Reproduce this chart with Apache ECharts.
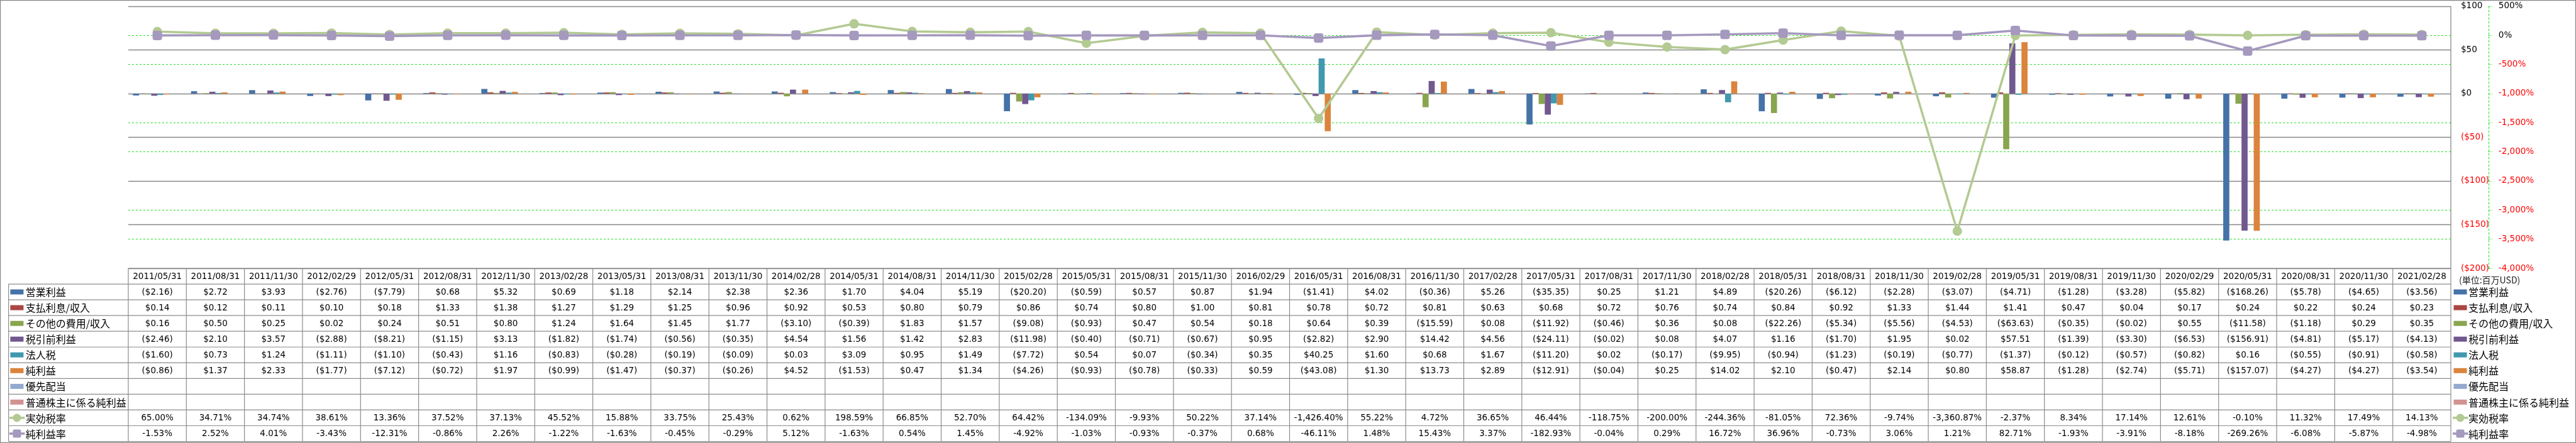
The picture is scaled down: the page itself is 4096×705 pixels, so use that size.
<!DOCTYPE html>
<html><head><meta charset="utf-8">
<script src="https://cdn.jsdelivr.net/npm/echarts@6/dist/echarts.min.js"></script>
<style>html,body{margin:0;padding:0;background:#fff}#c{width:4096px;height:705px}</style>
</head><body><div id="c"></div><script>
const categories = ["2011/05/31","2011/08/31","2011/11/30","2012/02/29","2012/05/31","2012/08/31","2012/11/30","2013/02/28","2013/05/31","2013/08/31","2013/11/30","2014/02/28","2014/05/31","2014/08/31","2014/11/30","2015/02/28","2015/05/31","2015/08/31","2015/11/30","2016/02/29","2016/05/31","2016/08/31","2016/11/30","2017/02/28","2017/05/31","2017/08/31","2017/11/30","2018/02/28","2018/05/31","2018/08/31","2018/11/30","2019/02/28","2019/05/31","2019/08/31","2019/11/30","2020/02/29","2020/05/31","2020/08/31","2020/11/30","2021/02/28"];
const operatingIncome = [-2.16,2.72,3.93,-2.76,-7.79,0.68,5.32,0.69,1.18,2.14,2.38,2.36,1.70,4.04,5.19,-20.20,-0.59,0.57,0.87,1.94,-1.41,4.02,-0.36,5.26,-35.35,0.25,1.21,4.89,-20.26,-6.12,-2.28,-3.07,-4.71,-1.28,-3.28,-5.82,-168.26,-5.78,-4.65,-3.56];
const interest = [0.14,0.12,0.11,0.10,0.18,1.33,1.38,1.27,1.29,1.25,0.96,0.92,0.53,0.80,0.79,0.86,0.74,0.80,1.00,0.81,0.78,0.72,0.81,0.63,0.68,0.72,0.76,0.74,0.84,0.92,1.33,1.44,1.41,0.47,0.04,0.17,0.24,0.22,0.24,0.23];
const otherExpense = [0.16,0.50,0.25,0.02,0.24,0.51,0.80,1.24,1.64,1.45,1.77,-3.10,-0.39,1.83,1.57,-9.08,-0.93,0.47,0.54,0.18,0.64,0.39,-15.59,0.08,-11.92,-0.46,0.36,0.08,-22.26,-5.34,-5.56,-4.53,-63.63,-0.35,-0.02,0.55,-11.58,-1.18,0.29,0.35];
const pretaxIncome = [-2.46,2.10,3.57,-2.88,-8.21,-1.15,3.13,-1.82,-1.74,-0.56,-0.35,4.54,1.56,1.42,2.83,-11.98,-0.40,-0.71,-0.67,0.95,-2.82,2.90,14.42,4.56,-24.11,-0.02,0.08,4.07,1.16,-1.70,1.95,0.02,57.51,-1.39,-3.30,-6.53,-156.91,-4.81,-5.17,-4.13];
const incomeTax = [-1.60,0.73,1.24,-1.11,-1.10,-0.43,1.16,-0.83,-0.28,-0.19,-0.09,0.03,3.09,0.95,1.49,-7.72,0.54,0.07,-0.34,0.35,40.25,1.60,0.68,1.67,-11.20,0.02,-0.17,-9.95,-0.94,-1.23,-0.19,-0.77,-1.37,-0.12,-0.57,-0.82,0.16,-0.55,-0.91,-0.58];
const netIncome = [-0.86,1.37,2.33,-1.77,-7.12,-0.72,1.97,-0.99,-1.47,-0.37,-0.26,4.52,-1.53,0.47,1.34,-4.26,-0.93,-0.78,-0.33,0.59,-43.08,1.30,13.73,2.89,-12.91,-0.04,0.25,14.02,2.10,-0.47,2.14,0.80,58.87,-1.28,-2.74,-5.71,-157.07,-4.27,-4.27,-3.54];
const preferredDividend = categories.map(() => null);
const netToCommon = categories.map(() => null);
const effectiveTaxRate = [65.00,34.71,34.74,38.61,13.36,37.52,37.13,45.52,15.88,33.75,25.43,0.62,198.59,66.85,52.70,64.42,-134.09,-9.93,50.22,37.14,-1426.40,55.22,4.72,36.65,46.44,-118.75,-200.00,-244.36,-81.05,72.36,-9.74,-3360.87,-2.37,8.34,17.14,12.61,-0.10,11.32,17.49,14.13];
const netMargin = [-1.53,2.52,4.01,-3.43,-12.31,-0.86,2.26,-1.22,-1.63,-0.45,-0.29,5.12,-1.63,0.54,1.45,-4.92,-1.03,-0.93,-0.37,0.68,-46.11,1.48,15.43,3.37,-182.93,-0.04,0.29,16.72,36.96,-0.73,3.06,1.21,82.71,-1.93,-3.91,-8.18,-269.26,-6.08,-5.87,-4.98];
const dollarTicks = {min:-200, max:100, interval:50};
const pctTicks = {min:-4000, max:500, interval:500};
const unitLabel = "(単位:百万USD)";

const barSeries = [
  {name:"営業利益", data:operatingIncome, color:"#4572A7"},
  {name:"支払利息/収入", data:interest, color:"#AA4643"},
  {name:"その他の費用/収入", data:otherExpense, color:"#89A54E"},
  {name:"税引前利益", data:pretaxIncome, color:"#71588F"},
  {name:"法人税", data:incomeTax, color:"#4198AF"},
  {name:"純利益", data:netIncome, color:"#DB843D"},
  {name:"優先配当", data:preferredDividend, color:"#93A9CF"},
  {name:"普通株主に係る純利益", data:netToCommon, color:"#D19392"}
];
const lineSeries = [
  {name:"実効税率", data:effectiveTaxRate, color:"#B3CA92", symbol:"circle"},
  {name:"純利益率", data:netMargin, color:"#A599BE", symbol:"roundRect"}
];

const W = 4096, H = 705;
const plotL = 204, plotR = 3897, plotT = 9.9, plotB = 427;
const rowH = 25.05, tableL = 13.6;
const colW = (plotR - plotL) / categories.length;
const gridColor = "#888888";
const greenDash = "#22E022";
const numFont = "DejaVu Sans";
const cjkFont = "'Noto Sans CJK JP'";

function fmtMoney(v){ if(v===null||v===undefined) return ""; return v<0 ? "($"+(-v).toFixed(2)+")" : "$"+v.toFixed(2); }
function fmtPct(v){ if(v===null||v===undefined) return ""; const s=Math.abs(v).toFixed(2).split("."); s[0]=s[0].replace(/\B(?=(\d{3})+(?!\d))/g,","); return (v<0?"-":"")+s.join(".")+"%"; }

const chart = echarts.init(document.getElementById('c'), null, {renderer:'canvas'});

const series = [];
barSeries.forEach(s => series.push({type:'bar', name:s.name, data:s.data, yAxisIndex:0, barGap:'0%', barCategoryGap:'16%', itemStyle:{color:s.color}, silent:true}));
lineSeries.forEach(s => series.push({type:'line', name:s.name, data:s.data, yAxisIndex:1, symbol:s.symbol, symbolSize:15, showSymbol:true, lineStyle:{color:s.color, width:3.6}, itemStyle:{color:s.color}, silent:true, z:3}));

// table + legends graphics
const g = [];
const lineC = "#8c8c8c";
function hline(x1,x2,y,c,w){ g.push({type:'line', silent:true, shape:{x1:x1,y1:y,x2:x2,y2:y}, style:{stroke:c||lineC, lineWidth:w||1.2}}); }
function vline(x,y1,y2,c,w){ g.push({type:'line', silent:true, shape:{x1:x,y1:y1,x2:x,y2:y2}, style:{stroke:c||lineC, lineWidth:w||1.2}}); }
function txt(s,x,y,font,size,color,align){ g.push({type:'text', silent:true, style:{text:s, x:x, y:y, fill:color||'#000', fontFamily:font, fontSize:size, align:align||'center', verticalAlign:'middle', textAlign:align||'center', textVerticalAlign:'middle'}}); }

// outer border
g.push({type:'rect', silent:true, shape:{x:0.6,y:0.6,width:W-1.2,height:H-1.2}, style:{fill:null, stroke:'#8a8a8a', lineWidth:1.2}});
// plot right border
vline(plotR, plotT, plotB, gridColor, 1.3);

const nRows = 11;
const tBottom = plotB + nRows*rowH;
// horizontal table lines
hline(plotL, plotR, plotB);
for(let k=1;k<=nRows;k++) hline(tableL, plotR, plotB + k*rowH);
// vertical lines
vline(tableL, plotB+rowH, tBottom);
for(let i=0;i<=categories.length;i++) vline(plotL + i*colW, plotB, tBottom);

// header
categories.forEach((c,i)=> txt(c, plotL+(i+0.5)*colW, plotB+rowH/2+0.5, numFont, 13.5));
const rowData = [operatingIncome, interest, otherExpense, pretaxIncome, incomeTax, netIncome, preferredDividend, netToCommon];
rowData.forEach((arr,r)=>{
  const y = plotB + (r+1.5)*rowH + 0.5;
  arr.forEach((v,i)=> txt(fmtMoney(v), plotL+(i+0.5)*colW, y, numFont, 13.5));
});
[effectiveTaxRate, netMargin].forEach((arr,r)=>{
  const y = plotB + (r+9.5)*rowH + 0.5;
  arr.forEach((v,i)=> txt(fmtPct(v), plotL+(i+0.5)*colW, y, numFont, 13.5));
});

// legend keys (left, in table) and right legend
function keys(xKey, xText){
  barSeries.forEach((s,r)=>{
    const y = plotB + (r+1.5)*rowH;
    g.push({type:'rect', silent:true, shape:{x:xKey, y:y-4, width:21, height:8}, style:{fill:s.color}});
    txt(s.name, xText, y+0.5, cjkFont, 16, '#000', 'left');
  });
  lineSeries.forEach((s,r)=>{
    const y = plotB + (r+9.5)*rowH;
    g.push({type:'line', silent:true, shape:{x1:xKey-1.5,y1:y,x2:xKey+23,y2:y}, style:{stroke:s.color, lineWidth:3.6}});
    if(s.symbol==='circle') g.push({type:'circle', silent:true, shape:{cx:xKey+10.5, cy:y, r:6.5}, style:{fill:s.color}});
    else g.push({type:'rect', silent:true, shape:{x:xKey+4, y:y-6.5, width:13, height:13, r:2.5}, style:{fill:s.color}});
    txt(s.name, xText, y+0.5, cjkFont, 16, '#000', 'left');
  });
}
keys(16.4, 40.7);
keys(3901.5, 3925);
txt(unitLabel, 3910, 445.5, cjkFont, 14, '#222', 'left');

const option = {
  animation:false,
  backgroundColor:'#ffffff',
  grid:{left:plotL, right:W-plotR, top:plotT, bottom:H-plotB, containLabel:false},
  xAxis:{type:'category', data:categories, boundaryGap:true, axisLabel:{show:false}, axisTick:{show:false}, axisLine:{show:false}, splitLine:{show:false}},
  yAxis:[
    {type:'value', position:'right', min:dollarTicks.min, max:dollarTicks.max, interval:dollarTicks.interval,
     axisLine:{show:false}, axisTick:{show:false},
     axisLabel:{margin:16, fontFamily:numFont, fontSize:13.5, color:(v)=>Number(v)<0?'#FF0000':'#000000', formatter:(v)=> v<0 ? '($'+(-v)+')' : '$'+v},
     splitLine:{show:true, lineStyle:{color:gridColor, width:1.3, type:'solid'}}, z:1},
    {type:'value', position:'right', offset:59.8, min:pctTicks.min, max:pctTicks.max, interval:pctTicks.interval,
     axisLine:{show:true, lineStyle:{color:greenDash, width:1, type:[3,3]}},
     axisTick:{show:true, length:6, inside:false, lineStyle:{color:greenDash, width:1, type:[3,2]}},
     axisLabel:{margin:16, fontFamily:numFont, fontSize:13.5, color:(v)=>Number(v)<0?'#FF0000':'#000000', formatter:(v)=>fmtPct(v).replace('.00','')},
     splitLine:{show:true, lineStyle:{color:greenDash, width:1, type:[3,3]}}, z:0}
  ],
  series:series,
  graphic:{elements:g}
};
chart.setOption(option);
</script></body></html>
